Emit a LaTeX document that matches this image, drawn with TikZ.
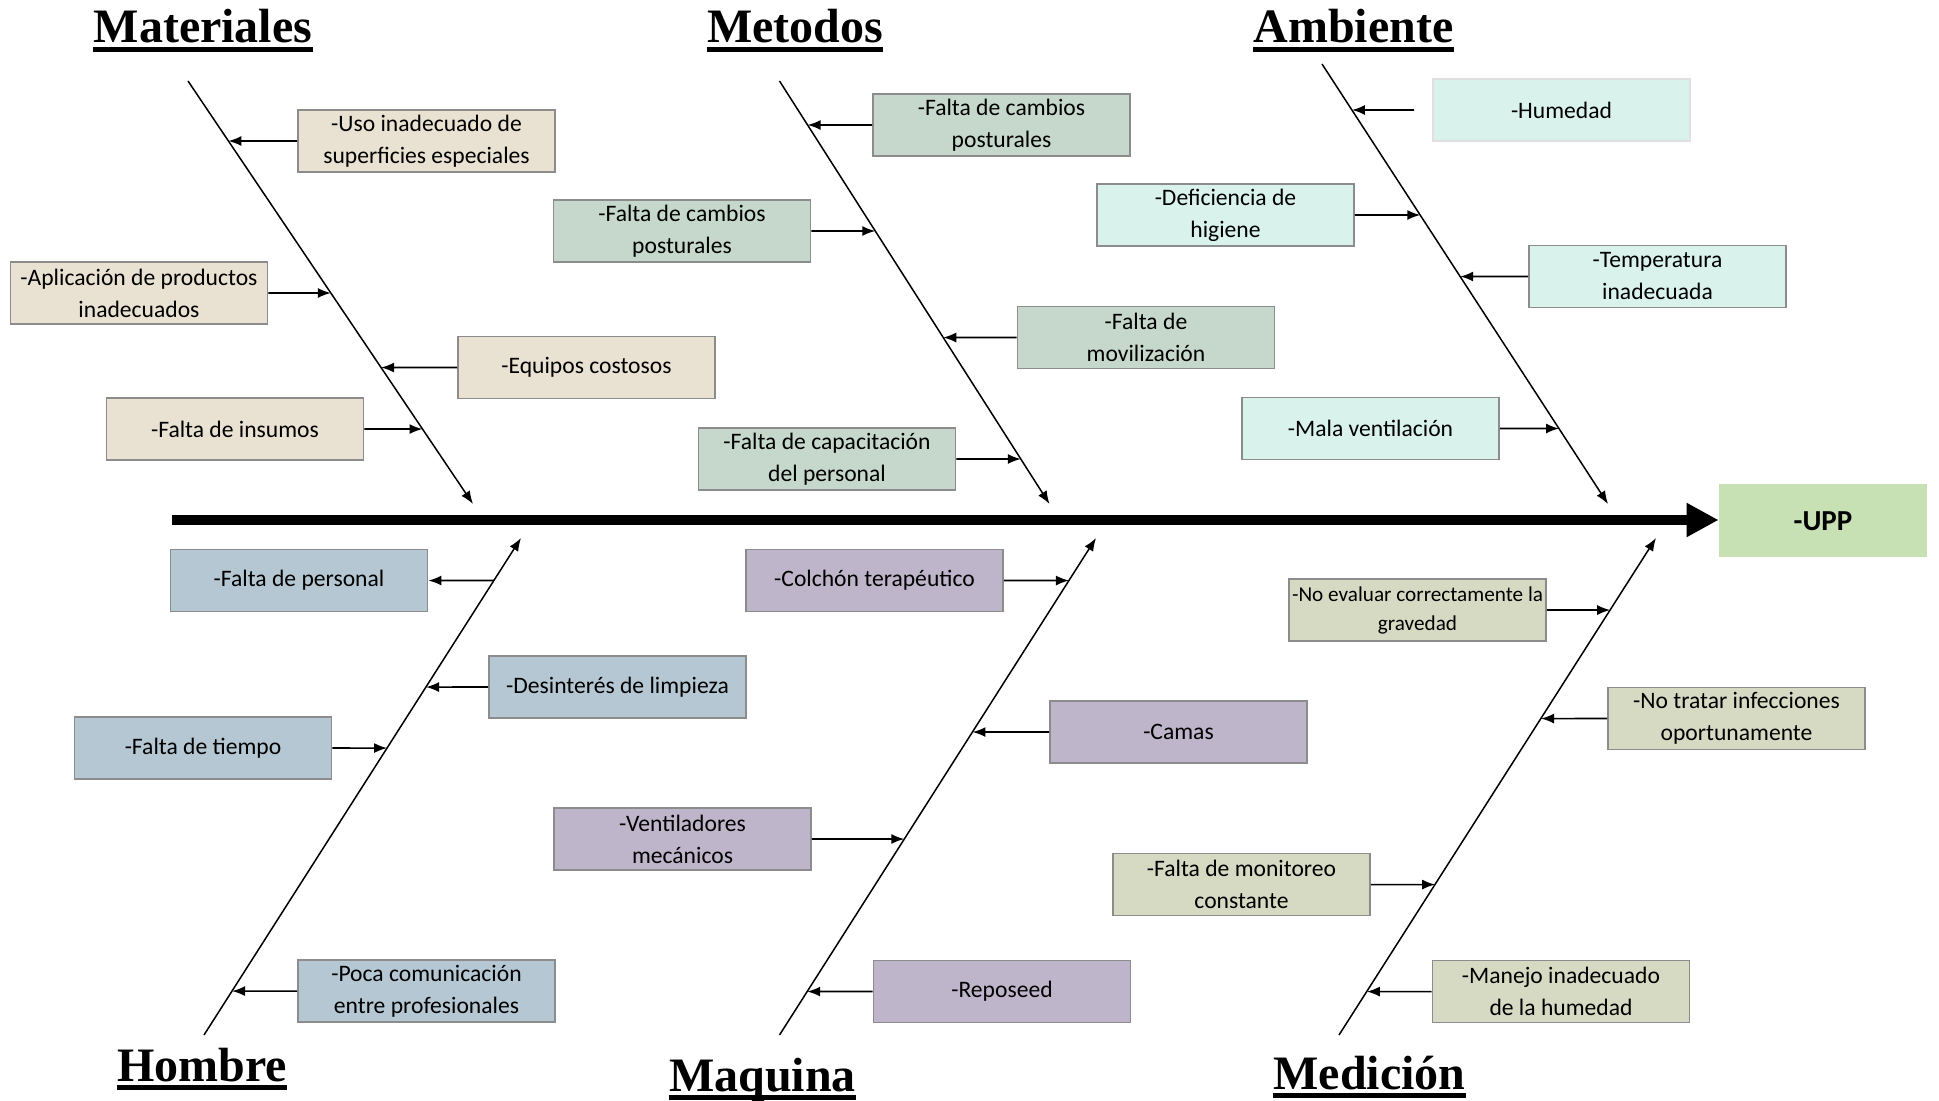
\documentclass[tikz,border=0pt]{standalone}
\usepackage{fontspec}
\setmainfont{Carlito}
\newfontfamily\headfont{Liberation Serif}
\usetikzlibrary{arrows.meta}
\definecolor{matfill}{HTML}{E9E1D2}
\definecolor{metfill}{HTML}{C5D8CB}
\definecolor{ambfill}{HTML}{D9F3EC}
\definecolor{homfill}{HTML}{B4C7D3}
\definecolor{maqfill}{HTML}{BEB5CA}
\definecolor{medfill}{HTML}{D7DAC3}
\definecolor{uppfill}{HTML}{C7E1B5}
\definecolor{boxline}{HTML}{8C8C8C}

\begin{document}
\begin{tikzpicture}[x = 0.5pt, y = -0.5pt,
        causebox/.style = {draw = boxline, line width = 0.9pt, minimum width = 128.5pt,
            minimum height = 31pt, inner sep = 1pt, align = center,
            font = \fontsize{11.8}{16}\selectfont},
        head/.style = {anchor = base, inner sep = 0pt,
            font = \headfont\bfseries\fontsize{24}{24}\selectfont},
        bone/.style = {line width = 0.75pt, -{Latex[length = 6.5pt, width = 5pt]}},
        cause/.style = {line width = 0.8pt, -{Latex[length = 6.5pt, width = 5pt]}}
    ]
        \useasboundingbox (0, 0) rectangle (1939, 1101);

        \node [head] (hmat) at (203, 43) {Materiales};
        \node [head] (hmet) at (795, 43) {Metodos};
        \node [head] (hamb) at (1353.5, 43) {Ambiente};
        \node [head] (hhom) at (202, 1081) {Hombre};
        \node [head] (hmaq) at (762.5, 1091) {Maquina};
        \node [head] (hmed) at (1369.5, 1089) {Medición};
        \foreach \h in {hmat, hmet, hamb, hhom, hmaq, hmed}
            \draw [line width = 2.5pt] ([yshift = -3.25pt]\h.base west) -- ([yshift = -3.25pt]\h.base east);

        \coordinate (mat0) at (188, 81);    \coordinate (mat9) at (473, 504);
        \coordinate (met0) at (779.5, 81);  \coordinate (met9) at (1049.5, 504);
        \coordinate (amb0) at (1322, 64);   \coordinate (amb9) at (1608, 504);
        \coordinate (hom0) at (204, 1035);  \coordinate (hom9) at (521, 538);
        \coordinate (maq0) at (779.5, 1035); \coordinate (maq9) at (1096, 538);
        \coordinate (med0) at (1339, 1035); \coordinate (med9) at (1656, 538);
        \foreach \b in {mat, met, amb, hom, maq, med}
            \draw [bone] (\b0) -- (\b9);

        \node [causebox, fill = matfill] (mat1) at (426.5, 141) {-Uso inadecuado de\\superficies especiales};
        \node [causebox, fill = matfill] (mat2) at (139, 293) {-Aplicación de productos\\inadecuados};
        \node [causebox, fill = matfill] (mat3) at (586.5, 367.5) {-Equipos costosos};
        \node [causebox, fill = matfill] (mat4) at (235, 429) {-Falta de insumos};

        \node [causebox, fill = metfill] (met1) at (1001.5, 125) {-Falta de cambios\\posturales};
        \node [causebox, fill = metfill] (met2) at (682, 231) {-Falta de cambios\\posturales};
        \node [causebox, fill = metfill] (met3) at (1146, 337.5) {-Falta de\\movilización};
        \node [causebox, fill = metfill] (met4) at (827, 459) {-Falta de capacitación\\del personal};

        \node [causebox, fill = ambfill, draw = black!12] (amb1) at (1561.5, 110) {-Humedad};
        \node [causebox, fill = ambfill] (amb2) at (1225.5, 215) {-Deficiencia de\\higiene};
        \node [causebox, fill = ambfill] (amb3) at (1657.5, 276.5) {-Temperatura\\inadecuada};
        \node [causebox, fill = ambfill] (amb4) at (1370.5, 428.5) {-Mala ventilación};

        \node [causebox, fill = homfill] (hom1) at (299, 580.5) {-Falta de personal};
        \node [causebox, fill = homfill] (hom2) at (617.5, 687) {-Desinterés de limpieza};
        \node [causebox, fill = homfill] (hom3) at (203, 748) {-Falta de tiempo};
        \node [causebox, fill = homfill] (hom4) at (426.5, 991) {-Poca comunicación\\entre profesionales};

        \node [causebox, fill = maqfill] (maq1) at (874.5, 580.5) {-Colchón terapéutico};
        \node [causebox, fill = maqfill] (maq2) at (1178.5, 732) {-Camas};
        \node [causebox, fill = maqfill] (maq3) at (682.5, 839) {-Ventiladores\\mecánicos};
        \node [causebox, fill = maqfill] (maq4) at (1002, 991.5) {-Reposeed};

        \node [causebox, fill = medfill, font = \fontsize{10.6}{14.5}\selectfont] (med1) at (1417.5, 610) {-No evaluar correctamente la\\gravedad};
        \node [causebox, fill = medfill] (med2) at (1736.5, 718.5) {-No tratar infecciones\\oportunamente};
        \node [causebox, fill = medfill] (med3) at (1241.5, 884.5) {-Falta de monitoreo\\constante};
        \node [causebox, fill = medfill] (med4) at (1561, 991.5) {-Manejo inadecuado\\de la humedad};

        \node [fill = uppfill, minimum width = 104pt, minimum height = 36.5pt,
            font = \bfseries\fontsize{14.5}{17}\selectfont] (upp) at (1823, 521) {-UPP};

        \foreach \n/\b in {mat1/mat, mat2/mat, mat3/mat, mat4/mat,
                met1/met, met2/met, met3/met, met4/met,
                amb2/amb, amb3/amb, amb4/amb,
                hom2/hom, hom3/hom, hom4/hom,
                maq1/maq, maq2/maq, maq3/maq, maq4/maq,
                med1/med, med2/med, med3/med, med4/med}
            \draw [cause] (\n) -- (intersection of \b0--\b9 and \n.west--\n.east);
        \draw [cause] ([xshift = -9pt]amb1.west) -- (intersection of amb0--amb9 and amb1.west--amb1.east);
        \draw [cause] (intersection of hom0--hom9 and hom1.west--hom1.east) -- (hom1);

        \coordinate (tail) at (172, 520);
        \draw [line width = 5pt, -{Triangle[length = 16pt, width = 16pt]}] (tail) -- (tail -| upp.west);
    \end{tikzpicture}
\end{document}
